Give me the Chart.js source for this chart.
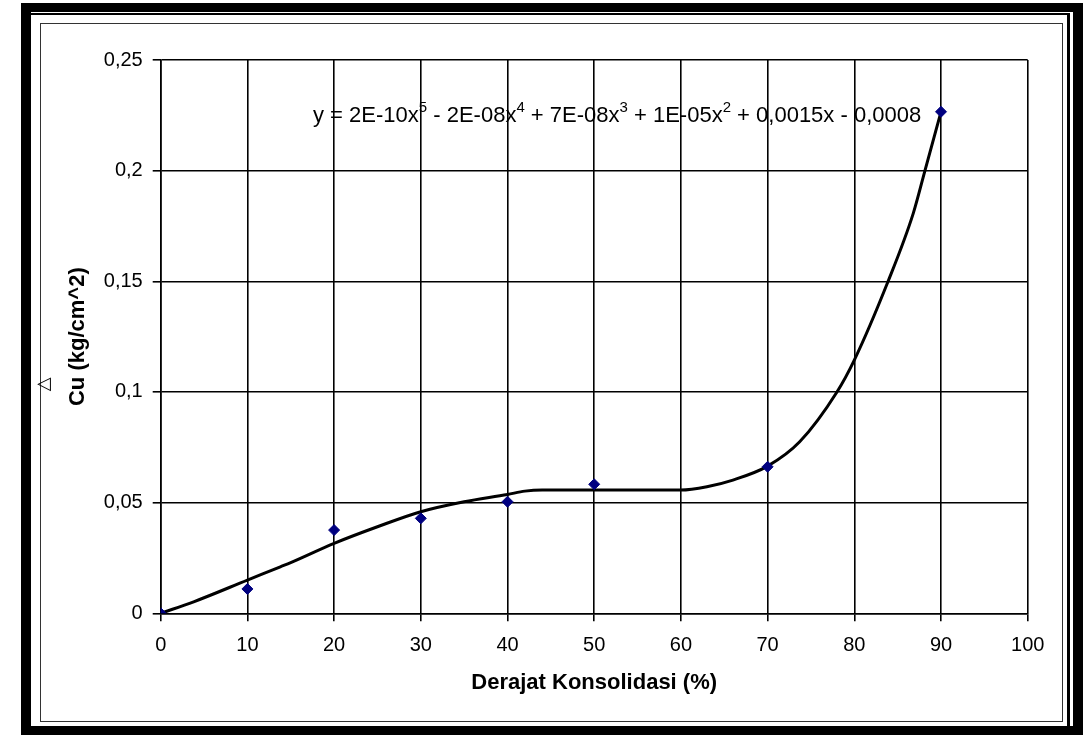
<!DOCTYPE html>
<html>
<head>
<meta charset="utf-8">
<script src="https://cdn.jsdelivr.net/npm/chart.js@4.4.1/dist/chart.umd.min.js"></script>
<style>
  html, body { margin: 0; padding: 0; background: #ffffff; }
  body { width: 1083px; height: 735px; position: relative; overflow: hidden; font-family: "Liberation Sans", Arial, sans-serif; }
  .abs { position: absolute; box-sizing: border-box; }
  #outer { left: 21px; top: 3px; width: 1062px; height: 732px; background: #000; }
  #white { left: 31px; top: 12px; width: 1042px; height: 714px; background: #fff; }
  #thin { left: 29px; top: 13px; width: 1041px; height: 713px; border-top: 2px solid #000; border-right: 3px solid #000; }
  #inner { left: 40px; top: 23px; width: 1023px; height: 699px; border: 1.5px solid #333; }
  #chartbox { left: 0; top: 0; width: 1083px; height: 735px; }
  #eq { left: 313px; top: 103px; font-size: 22px; line-height: 24px; white-space: pre; color: #000; }
  #eq sup { font-size: 15px; vertical-align: baseline; position: relative; top: -10px; }
  #tri { left: 37px; top: 372px; font-family: "DejaVu Sans", sans-serif; font-size: 18px; color: #000; }
</style>
</head>
<body>
<div id="outer" class="abs"></div>
<div id="white" class="abs"></div>
<div id="thin" class="abs"></div>
<div id="inner" class="abs"></div>
<div id="chartbox" class="abs"><canvas id="c" width="1083" height="735"></canvas></div>
<div id="eq" class="abs">y = 2E-10x<sup>5</sup> - 2E-08x<sup>4</sup> + 7E-08x<sup>3</sup> + 1E-05x<sup>2</sup> + 0,0015x - 0,0008</div>
<div id="tri" class="abs">◁</div>
<script>
// Measured points (Derajat Konsolidasi %, Cu kg/cm^2)
const consolidation = [0, 10, 20, 30, 40, 50, 70, 90];
const cuValues = [0, 0.011, 0.0376, 0.0429, 0.0504, 0.0583, 0.0662, 0.2266];

// Trendline
const trendX = [0, 3.8, 10, 13.8, 15, 20, 25, 30, 35, 40, 42, 44, 50, 60, 63, 66, 70, 73.7, 78, 80, 83.9, 86.8, 88.15, 90];
const trendY = [0, 0.0052, 0.015, 0.021, 0.0229, 0.0316, 0.0391, 0.0459, 0.0504, 0.0537, 0.0552, 0.0557, 0.0557, 0.0557, 0.0572, 0.0602, 0.0665, 0.0775, 0.1, 0.1144, 0.15, 0.1807, 0.2, 0.2266];

const xTickLabels = ['0', '10', '20', '30', '40', '50', '60', '70', '80', '90', '100'];
const yTickLabels = ['0', '0,05', '0,1', '0,15', '0,2', '0,25'];

const xTitle = 'Derajat Konsolidasi (%)';
const yTitle = 'Cu (kg/cm^2)';

const pointData = consolidation.map((x, i) => ({ x: x, y: cuValues[i] }));
const trendData = trendX.map((x, i) => ({ x: x, y: trendY[i] }));

const FONT = '"Liberation Sans", Arial, sans-serif';

new Chart(document.getElementById('c'), {
  type: 'scatter',
  data: {
    datasets: [
      {
        label: 'Cu',
        data: pointData,
        pointStyle: 'rectRot',
        pointRadius: 5.5,
        pointHoverRadius: 5.5,
        backgroundColor: '#000080',
        borderColor: '#000080',
        borderWidth: 1,
        order: 0
      },
      {
        label: 'Trend',
        data: trendData,
        showLine: true,
        pointRadius: 0,
        pointHoverRadius: 0,
        borderColor: '#000',
        borderWidth: 3,
        cubicInterpolationMode: 'monotone',
        fill: false,
        order: 1
      }
    ]
  },
  options: {
    responsive: false,
    animation: false,
    devicePixelRatio: 1,
    layout: { padding: { left: 65, top: 60, right: 55.3, bottom: 38.8 } },
    plugins: { legend: { display: false }, tooltip: { enabled: false } },
    scales: {
      x: {
        type: 'linear',
        min: 0, max: 100,
        afterFit: (s) => { s.height = 82.9; },
        ticks: {
          stepSize: 10,
          color: '#000',
          padding: 12,
          font: { family: FONT, size: 20 },
          callback: (v) => xTickLabels[Math.round(v / 10)]
        },
        grid: { color: '#000', lineWidth: 1.6, tickLength: 8, drawTicks: true },
        border: { display: true, color: '#000', width: 1.6 },
        title: { display: true, text: xTitle, color: '#000', padding: 0, font: { family: FONT, size: 22, weight: 'bold' } }
      },
      y: {
        type: 'linear',
        min: 0, max: 0.25,
        afterFit: (s) => { s.width = 95.7; },
        ticks: {
          stepSize: 0.05,
          color: '#000',
          padding: 10,
          font: { family: FONT, size: 20 },
          callback: (v) => yTickLabels[Math.round(v / 0.05)]
        },
        grid: { color: '#000', lineWidth: 1.6, tickLength: 8, drawTicks: true },
        border: { display: true, color: '#000', width: 1.6 },
        title: { display: true, text: yTitle, color: '#000', padding: 0, font: { family: FONT, size: 22, weight: 'bold' } }
      }
    }
  }
});
</script>
</body>
</html>
